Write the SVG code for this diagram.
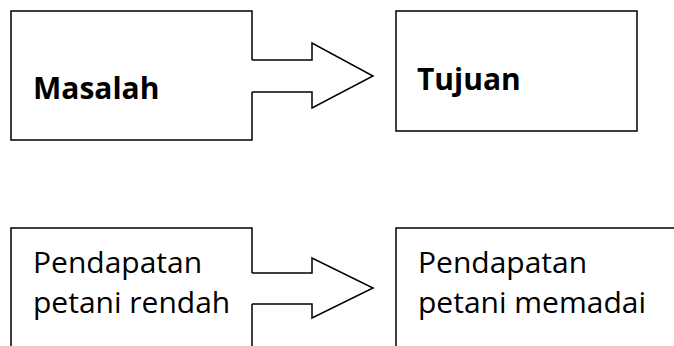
<svg xmlns="http://www.w3.org/2000/svg" width="674" height="346" viewBox="0 0 674 346">
<style>
.box{fill:#fff;stroke:#000;stroke-width:1.5}
.arr{fill:#fff;stroke:#000;stroke-width:1.5;stroke-linejoin:miter}
.b{font-family:"Open Sans",sans-serif;font-weight:bold;font-size:30px;fill:#000}
.r{font-family:"Open Sans",sans-serif;font-size:30px;fill:#000}
</style>
<rect width="674" height="346" fill="#fff"/>
<g id="masalah">
<path class="box" d="M252,60 V11 H11 V140 H252 V92"/>
<text class="b" x="33" y="99">Masalah</text>
</g>
<g id="tujuan">
<rect class="box" x="396" y="11" width="241" height="120"/>
<text class="b" x="417" y="90">Tujuan</text>
</g>
<g id="pendapatan-rendah">
<path class="box" d="M11,350 V228 H252 V273 M252,304 V350"/>
<text class="r" x="33" y="273">Pendapatan</text>
<text class="r" x="33" y="313">petani rendah</text>
</g>
<g id="pendapatan-memadai">
<path class="box" d="M396,350 V228 H680"/>
<text class="r" x="418" y="273">Pendapatan</text>
<text class="r" x="418" y="313">petani memadai</text>
</g>
<g id="connectors">
<path class="arr" d="M252,60 H312 V43 L373,76 L312,108 V92 H252"/>
<path class="arr" d="M252,273 H312 V258 L373,288 L312,318 V304 H252"/>
</g>
</svg>
